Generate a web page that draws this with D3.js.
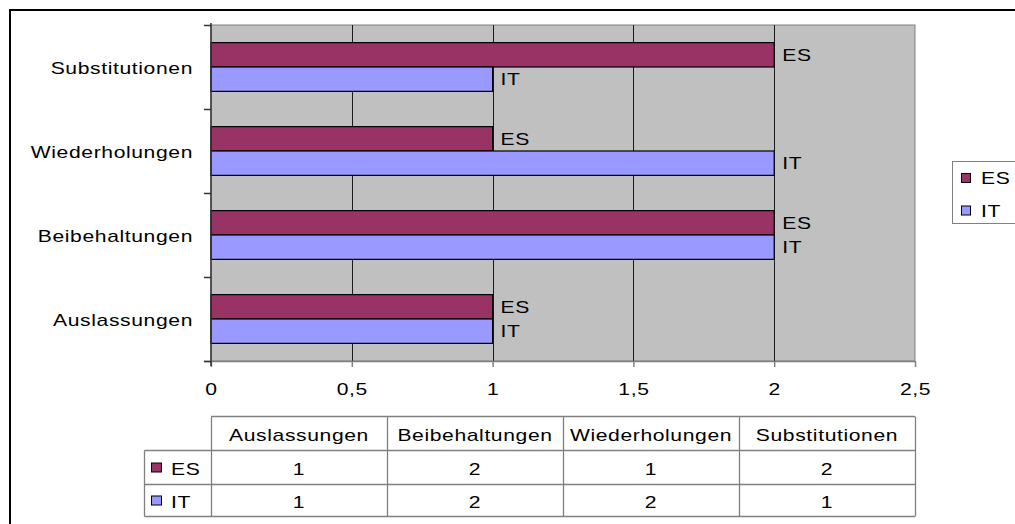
<!DOCTYPE html>
<html>
<head>
<meta charset="utf-8">
<script src="https://cdn.jsdelivr.net/npm/d3@7"></script>
<style>
  html, body { margin: 0; padding: 0; background: #fff; }
  svg { display: block; }
  text { font-family: "Liberation Sans", Arial, sans-serif; font-size: 17px; letter-spacing: 0.5px; fill: #000; }
</style>
</head>
<body>
<svg id="chart" width="1015" height="524"></svg>
<script>
// Categories in table order (bottom-to-top on the bar chart)
const categories = ["Auslassungen", "Beibehaltungen", "Wiederholungen", "Substitutionen"];
const seriesNames = ["ES", "IT"];
const esValues = [1, 2, 1, 2];
const itValues = [1, 2, 2, 1];
const xTickValues = [0, 0.5, 1, 1.5, 2, 2.5];

const seriesColors = { ES: "#993366", IT: "#9999FF" };
const seriesValues = { ES: esValues, IT: itValues };

const svg = d3.select("#chart");

// outer chart frame
svg.append("rect")
  .attr("x", 10).attr("y", 10).attr("width", 1100).attr("height", 700)
  .attr("fill", "#fff").attr("stroke", "#000").attr("stroke-width", 2);

const plot = { left: 211, right: 915, top: 25, bottom: 361 };

const x = d3.scaleLinear().domain([0, 2.5]).range([plot.left, plot.right]);
const y = d3.scaleBand()
  .domain(categories.slice().reverse())
  .range([plot.top, plot.bottom])
  .paddingInner(0.42)
  .paddingOuter(0.21);
const ySeries = d3.scaleBand().domain(seriesNames).range([0, y.bandwidth()]);

const fmt = v => String(v).replace(".", ",");

// plot background
svg.append("rect")
  .attr("x", plot.left).attr("y", plot.top)
  .attr("width", plot.right - plot.left).attr("height", plot.bottom - plot.top)
  .attr("fill", "#C0C0C0").attr("stroke", "#808080").attr("stroke-width", 1);

// vertical gridlines
svg.append("g")
  .selectAll("line")
  .data(xTickValues.filter(v => v > 0 && v < 2.5))
  .join("line")
  .attr("x1", d => Math.round(x(d)) + 0.5).attr("x2", d => Math.round(x(d)) + 0.5)
  .attr("y1", plot.top).attr("y2", plot.bottom)
  .attr("stroke", "#1a1a1a").attr("stroke-width", 1);

// bars
const rows = categories.map((c, i) => ({ cat: c, ES: esValues[i], IT: itValues[i] }));
const groups = svg.append("g").selectAll("g")
  .data(rows).join("g")
  .attr("transform", d => `translate(0,${y(d.cat)})`);

groups.selectAll("rect")
  .data(d => seriesNames.map(s => ({ s, v: d[s] })))
  .join("rect")
  .attr("x", x(0))
  .attr("y", d => ySeries(d.s))
  .attr("width", d => x(d.v) - x(0))
  .attr("height", ySeries.bandwidth())
  .attr("fill", d => seriesColors[d.s])
  .attr("stroke", "#000").attr("stroke-width", 1.2);

// bar end labels
groups.selectAll("text")
  .data(d => seriesNames.map(s => ({ s, v: d[s] })))
  .join("text")
  .attr("x", d => x(d.v) + 8)
  .attr("y", d => ySeries(d.s) + ySeries.bandwidth() / 2)
  .attr("dy", "0.36em")
  .text(d => d.s);

// bottom axis
const xAxis = svg.append("g")
  .attr("transform", `translate(0,${plot.bottom})`)
  .call(d3.axisBottom(x).tickValues(xTickValues).tickFormat(fmt).tickSize(6).tickPadding(16));
xAxis.select(".domain").attr("stroke", "#808080").attr("stroke-width", 1.5).attr("d", `M${plot.left - 7},0.5H${plot.right}`);
xAxis.selectAll(".tick line").attr("stroke", "#808080").attr("stroke-width", 1.5);
xAxis.selectAll(".tick text")
  .style("font-size", "17px").style("font-family", "'Liberation Sans', Arial, sans-serif");

// left axis: category labels with ticks between bands
svg.append("line")
  .attr("x1", plot.left).attr("x2", plot.left)
  .attr("y1", plot.top - 2).attr("y2", plot.bottom + 5)
  .attr("stroke", "#333").attr("stroke-width", 1.5);
const bandEdges = categories.slice().reverse().map(c => y(c) - y.step() * y.paddingOuter());
bandEdges.push(plot.bottom);
svg.append("g").selectAll("line")
  .data(bandEdges).join("line")
  .attr("x1", plot.left - 7).attr("x2", plot.left)
  .attr("y1", d => Math.round(d) + 0.5).attr("y2", d => Math.round(d) + 0.5)
  .attr("stroke", "#333").attr("stroke-width", 1.5);
svg.append("g").selectAll("text")
  .data(categories).join("text")
  .attr("x", 193)
  .attr("y", d => y(d) + y.bandwidth() / 2 + 1)
  .attr("dy", "0.36em")
  .attr("text-anchor", "end")
  .text(d => d);

// legend
const legend = svg.append("g");
legend.append("rect")
  .attr("x", 952.5).attr("y", 161.5).attr("width", 100).attr("height", 62)
  .attr("fill", "#fff").attr("stroke", "#808080").attr("stroke-width", 1);
seriesNames.forEach((s, i) => {
  const cy = 178 + i * 32.5;
  legend.append("rect")
    .attr("x", 961.5).attr("y", cy - 4.5).attr("width", 9).attr("height", 9)
    .attr("fill", seriesColors[s]).attr("stroke", "#000").attr("stroke-width", 1);
  legend.append("text")
    .attr("x", 981).attr("y", cy).attr("dy", "0.36em").text(s);
});

// data table below the axis
const col = d3.scaleBand().domain(categories).range([plot.left, plot.right]);
const table = { top: 416.5, header: 450.5, row1: 484.5, bottom: 516.5, keyLeft: 144.5 };
const tg = svg.append("g");
const lineColor = "#808080";
const hline = (x1, x2, yy) => tg.append("line").attr("x1", x1).attr("x2", x2).attr("y1", yy).attr("y2", yy)
  .attr("stroke", lineColor).attr("stroke-width", 1.3);
const vline = (xx, y1, y2) => tg.append("line").attr("x1", xx).attr("x2", xx).attr("y1", y1).attr("y2", y2)
  .attr("stroke", lineColor).attr("stroke-width", 1.3);

hline(plot.left, plot.right, table.top);
hline(table.keyLeft, plot.right, table.header);
hline(table.keyLeft, plot.right, table.row1);
hline(table.keyLeft, plot.right, table.bottom);
vline(table.keyLeft, table.header, table.bottom);
categories.forEach(c => vline(Math.round(col(c)) + 0.5, table.top, table.bottom));
vline(plot.right + 0.5, table.top, table.bottom);

tg.selectAll("text.head")
  .data(categories).join("text")
  .attr("class", "head")
  .attr("x", d => col(d) + col.bandwidth() / 2)
  .attr("y", (table.top + table.header) / 2 + 1)
  .attr("dy", "0.36em")
  .attr("text-anchor", "middle")
  .text(d => d);

const rowY = [(table.header + table.row1) / 2, (table.row1 + table.bottom) / 2];
seriesNames.forEach((s, i) => {
  tg.append("rect")
    .attr("x", 151.5).attr("y", rowY[i] - 4.5).attr("width", 10).attr("height", 9)
    .attr("fill", seriesColors[s]).attr("stroke", "#000").attr("stroke-width", 1);
  tg.append("text")
    .attr("x", 171).attr("y", rowY[i] + 1).attr("dy", "0.36em").text(s);
  tg.selectAll(null)
    .data(categories).join("text")
    .attr("x", d => col(d) + col.bandwidth() / 2)
    .attr("y", rowY[i] + 1)
    .attr("dy", "0.36em")
    .attr("text-anchor", "middle")
    .text((d, j) => seriesValues[s][j]);
});

// widen every label horizontally (wide glyph rendering)
svg.selectAll("text").each(function () {
  const len = this.getComputedTextLength();
  if (len > 0) {
    this.setAttribute("textLength", (len * 1.24).toFixed(1));
    this.setAttribute("lengthAdjust", "spacingAndGlyphs");
  }
});
</script>
</body>
</html>
